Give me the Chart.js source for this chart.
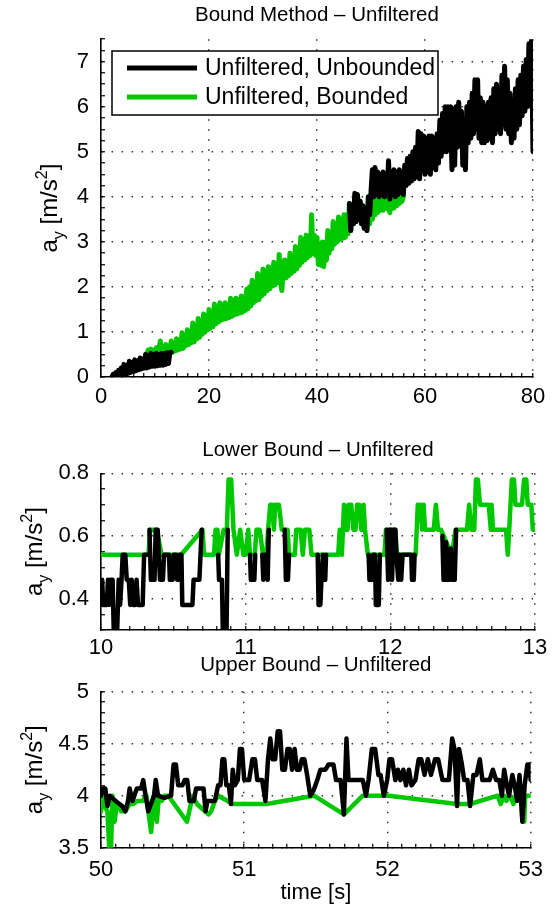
<!DOCTYPE html>
<html>
<head>
<meta charset="utf-8">
<script src="https://cdn.jsdelivr.net/npm/chart.js@4.4.1/dist/chart.umd.min.js"></script>
<style>
  html, body { margin: 0; padding: 0; background: #fff; }
  body { width: 556px; height: 910px; position: relative; overflow: hidden; }
  .panel { position: absolute; left: 0; width: 556px; }
  .panel canvas { display: block; }
</style>
</head>
<body>
<div class="panel" style="top:0;height:420px"><canvas id="topChart" width="556" height="420"></canvas></div>
<div class="panel" style="top:425px;height:240px"><canvas id="lowChart" width="556" height="240"></canvas></div>
<div class="panel" style="top:640px;height:270px"><canvas id="upChart" width="556" height="270"></canvas></div>
<script>
const FONT = '"Liberation Sans", Arial, sans-serif';

const panelTitles = ['Bound Method – Unfiltered', 'Lower Bound – Unfiltered', 'Upper Bound – Unfiltered'];
const seriesNames = ['Unfiltered, Unbounded', 'Unfiltered, Bounded'];
const seriesColors = ['#000000', '#00c800'];
const xTitle = 'time [s]';
// a_y [m/s^2] : 0 normal, 1 subscript, -1 superscript
const yTitleParts = [['a', 0], ['y', 1], [' [m/s', 0], ['2', -1], [']', 0]];

const topXTicks = [0, 20, 40, 60, 80];
const topYTicks = [0, 1, 2, 3, 4, 5, 6, 7];
const lowXTicks = [10, 11, 12, 13];
const lowYTicks = [0.4, 0.6, 0.8];
const upXTicks = [50, 51, 52, 53];
const upYTicks = [3.5, 4, 4.5, 5];

// top panel, unbounded (null = hidden under the bounded trace)
const topUnbTime = [
  2, 2.25, 2.5, 2.75, 3, 3.25, 3.5, 3.75, 4, 4.25, 4.5, 4.75, 5, 5.25, 5.5, 5.75,
  6, 6.25, 6.5, 6.75, 7, 7.25, 7.5, 7.75, 8, 8.25, 8.5, 8.75, 9, 9.25, 9.5, 9.75,
  10, 10.25, 10.5, 10.75, 11, 11.25, 11.5, 11.75, 12, 12.25, 12.5, 12.75, 13, 13.25,
  46, 46.25, 46.5, 46.75, 47, 47.25, 47.5, 47.75, 48, 48.25, 48.5, 48.75, 49, 49.25, 49.5, 49.75,
  50, 50.25, 50.5, 50.75, 51, 51.25, 51.5, 51.75, 52, 52.25, 52.5, 52.75, 53, 53.25, 53.5, 53.75,
  54, 54.25, 54.5, 54.75, 55, 55.25, 55.5, 55.75, 56, 56.25, 56.5, 56.75,
  57, 57.25, 57.5, 57.75, 58, 58.25, 58.5, 58.75, 59, 59.25, 59.5, 59.75,
  60, 60.25, 60.5, 60.75, 61, 61.25, 61.5, 61.75, 62, 62.25, 62.5, 62.75,
  63, 63.25, 63.5, 63.75, 64, 64.25, 64.5, 64.75, 65, 65.25, 65.5, 65.75,
  66, 66.25, 66.5, 66.75, 67, 67.25, 67.5, 67.75, 68, 68.25, 68.5, 68.75,
  69, 69.25, 69.5, 69.75, 70, 70.25, 70.5, 70.75, 71, 71.25, 71.5, 71.75,
  72, 72.25, 72.5, 72.75, 73, 73.25, 73.5, 73.75, 74, 74.25, 74.5, 74.75,
  75, 75.25, 75.5, 75.75, 76, 76.25, 76.5, 76.75, 77, 77.25, 77.5, 77.75,
  78, 78.25, 78.5, 78.75, 79, 79.25, 79.5, 79.75, 80];
const topUnb = [
  0.00, 0.06, 0.01, 0.10, 0.02, 0.15, 0.03, 0.20, 0.04, 0.28, 0.06, 0.26, 0.08, 0.35, 0.10, 0.32,
  0.12, 0.38, 0.14, 0.36, 0.16, 0.42, 0.18, 0.40, 0.20, 0.50, 0.20, 0.48, 0.22, 0.52, 0.24, 0.50,
  0.24, 0.52, 0.25, 0.50, 0.26, 0.52, 0.26, 0.52, 0.28, 0.54, 0.30, 0.54, 0.55, null,
  3.85, 3.25, 3.80, 3.40, 4.08, 3.45, 4.05, 3.50, 3.90, 3.40, 3.80, 3.30, 3.75, 3.25, 4.00, 3.60,
  4.10, 4.60, 4.00, 4.65, 4.05, 4.55, 4.00, 4.50, 4.05, 4.55, 4.00, 4.50, 4.10, 4.80, 3.95, 4.55,
  4.05, 4.60, 4.00, 4.55, 4.05, 4.60, 4.10, 4.55, 4.05, 4.70, 4.25, 4.85,
  4.30, 4.90, 4.35, 5.00, 4.40, 5.10, 4.45, 5.45, 4.40, 5.40, 4.60, 5.35,
  4.50, 5.30, 4.55, 5.35, 4.50, 5.35, 4.65, 5.30, 4.60, 5.40, 4.75, 5.70,
  4.90, 5.85, 5.00, 6.00, 5.00, 6.00, 5.10, 6.00, 4.60, 5.95, 4.70, 6.00,
  5.10, 6.10, 5.20, 5.90, 4.70, 5.70, 4.60, 6.00, 5.20, 6.10, 5.30, 6.30,
  5.40, 6.60, 5.50, 6.60, 5.30, 6.20, 5.20, 6.10, 5.20, 6.00, 5.25, 6.10,
  5.30, 6.20, 5.20, 6.40, 5.40, 6.50, 5.50, 6.40, 5.40, 6.70, 5.60, 6.90,
  5.50, 6.60, 5.40, 6.30, 5.20, 6.00, 5.30, 6.40, 5.50, 6.60, 5.60, 6.70,
  5.80, 6.90, 5.90, 7.05, 6.00, 7.40, 6.20, 7.50, 5.00];

// top panel, bounded
const topBndTime = [
  8.5, 8.75,
  9, 9.25, 9.5, 9.75, 10, 10.25, 10.5, 10.75, 11, 11.25, 11.5, 11.75, 12, 12.25, 12.5, 12.75,
  13, 13.25, 13.5, 13.75, 14, 14.25, 14.5, 14.75, 15, 15.25, 15.5, 15.75, 16, 16.25, 16.5, 16.75,
  17, 17.25, 17.5, 17.75, 18, 18.25, 18.5, 18.75, 19, 19.25, 19.5, 19.75, 20, 20.25, 20.5, 20.75,
  21, 21.25, 21.5, 21.75, 22, 22.25, 22.5, 22.75, 23, 23.25, 23.5, 23.75, 24, 24.25, 24.5, 24.75,
  25, 25.25, 25.5, 25.75, 26, 26.25, 26.5, 26.75, 27, 27.25, 27.5, 27.75, 28, 28.25, 28.5, 28.75,
  29, 29.25, 29.5, 29.75, 30, 30.25, 30.5, 30.75, 31, 31.25, 31.5, 31.75, 32, 32.25, 32.5, 32.75,
  33, 33.25, 33.5, 33.75, 34, 34.25, 34.5, 34.75, 35, 35.25, 35.5, 35.75, 36, 36.25, 36.5, 36.75,
  37, 37.25, 37.5, 37.75, 38, 38.25, 38.5, 38.75, 39, 39.25, 39.5, 39.75, 40, 40.25, 40.5, 40.75,
  41, 41.25, 41.5, 41.75, 42, 42.25, 42.5, 42.75, 43, 43.25, 43.5, 43.75, 44, 44.25, 44.5, 44.75,
  45, 45.25, 45.5, 45.75, 46, 46.25, 46.5, 46.75, 47, 47.25, 47.5, 47.75, 48, 48.25, 48.5, 48.75,
  49, 49.25, 49.5, 49.75, 50, 50.25, 50.5, 50.75, 51, 51.25, 51.5, 51.75, 52, 52.25, 52.5, 52.75,
  53, 53.25, 53.5, 53.75, 54, 54.25, 54.5, 54.75, 55, 55.25, 55.5, 55.75, 56];
const topBnd = [
  0.52, 0.60,
  0.50, 0.62, 0.52, 0.58, 0.50, 0.65, 0.54, 0.62, 0.80, 0.52, 0.66, 0.54, 0.72, 0.50, 0.68, 0.56,
  0.80, 0.55, 0.74, 0.58, 0.85, 0.60, 0.80, 0.62, 0.98, 0.64, 0.90, 0.70, 1.05, 0.72, 1.00, 0.76,
  1.20, 0.78, 1.12, 0.85, 1.30, 0.88, 1.25, 0.95, 1.40, 1.00, 1.35, 1.05, 1.50, 1.08, 1.45, 1.12,
  1.62, 1.18, 1.55, 1.22, 1.65, 1.26, 1.60, 1.28, 1.65, 1.30, 1.58, 1.32, 1.75, 1.35, 1.70, 1.38,
  1.75, 1.40, 1.72, 1.42, 1.80, 1.44, 1.78, 1.48, 1.95, 1.52, 2.00, 1.58, 2.15, 1.65, 2.10, 1.70,
  2.30, 1.72, 2.20, 1.80, 2.40, 1.85, 2.35, 1.92, 2.45, 1.96, 2.42, 2.02, 2.55, 2.05, 2.50, 2.10,
  2.72, 2.10, 1.92, 2.40, 2.60, 2.20, 2.58, 2.25, 2.75, 2.30, 2.70, 2.35, 2.90, 2.40, 2.85, 2.48,
  3.10, 2.55, 3.05, 2.60, 3.15, 2.65, 3.10, 2.70, 3.60, 2.75, 3.15, 2.70, 3.10, 2.50, 2.95, 2.48,
  3.00, 2.45, 3.00, 2.60, 3.25, 2.75, 3.20, 2.85, 3.45, 2.95, 3.40, 3.00, 3.55, 3.05, 3.50, 3.08,
  3.60, 3.10, 3.60, 3.18, 3.85, 3.25, 3.80, 3.40, 4.00, 3.45, 3.95, 3.50, 3.90, 3.40, 3.80, 3.30,
  3.75, 3.25, 3.70, 3.40, 3.90, 3.50, 3.95, 3.60, 4.00, 3.65, 4.00, 3.70, 4.00, 3.70, 4.00, 3.75,
  4.00, 3.72, 3.65, 3.90, 4.00, 3.75, 4.00, 3.80, 4.00, 3.85, 4.00, 3.90, 4.00];

// lower bound panel, unbounded (null = same as bounded)
const lowUnbTime = [10.000, 10.008, 10.015, 10.040, 10.048, 10.056, 10.066, 10.080, 10.088, 10.112, 10.122, 10.132, 10.142, 10.150, 10.168,
  10.178, 10.192, 10.202, 10.212, 10.222, 10.236, 10.246, 10.256, 10.288, 10.298, 10.320, 10.330,
  10.335, 10.345, 10.370, 10.378, 10.392, 10.400, 10.408, 10.428, 10.436, 10.470, 10.476, 10.495, 10.503, 10.520, 10.527, 10.537,
  10.545, 10.556, 10.562, 10.632, 10.640, 10.680, 10.688, 10.696, 10.700,
  10.810, 10.816, 10.836, 10.842, 10.868, 10.876, 10.900,
  11.030, 11.036, 11.060, 11.066, 11.090,
  11.115, 11.122, 11.132, 11.146, 11.152, 11.160, 11.200,
  11.270, 11.278, 11.292, 11.300, 11.400,
  11.498, 11.504, 11.516, 11.524, 11.534, 11.540, 11.550, 11.556, 11.700,
  11.850, 11.856, 11.876, 11.882, 11.894, 11.900, 11.920, 11.928, 11.950,
  11.975, 11.985, 11.995, 12.005, 12.012, 12.022, 12.035, 12.042, 12.055, 12.065, 12.075, 12.085, 12.145, 12.150, 12.162, 12.168, 12.250,
  12.360, 12.368, 12.378, 12.386, 12.395, 12.410, 12.418, 12.428, 12.445, 12.455];
const lowUnb = [0.46, 0.46, 0.38, 0.38, 0.46, 0.38, 0.46, 0.46, 0.30, 0.30, 0.46, 0.38, 0.46, 0.54, 0.54,
  0.46, 0.46, 0.38, 0.46, 0.38, 0.38, 0.46, 0.38, 0.38, 0.54, 0.54, null,
  0.62, 0.46, 0.46, 0.62, 0.62, 0.54, 0.46, 0.46, 0.54, 0.54, 0.46, 0.46, 0.54, 0.54, 0.46, 0.46,
  0.54, 0.54, 0.38, 0.38, 0.46, 0.46, 0.54, 0.62, null,
  0.54, 0.46, 0.46, 0.30, 0.30, 0.62, null,
  0.54, 0.46, 0.46, 0.54, null,
  0.54, 0.46, 0.54, 0.54, 0.46, 0.62, null,
  0.62, 0.46, 0.46, 0.54, null,
  0.54, 0.38, 0.38, 0.46, 0.54, 0.46, 0.46, 0.54, null,
  0.54, 0.46, 0.46, 0.54, 0.54, 0.38, 0.38, 0.54, null,
  0.62, 0.46, 0.62, 0.62, 0.46, 0.62, 0.62, 0.54, 0.46, 0.54, 0.46, 0.54, 0.54, 0.46, 0.46, 0.54, null,
  0.60, 0.46, 0.46, 0.58, 0.46, 0.46, 0.56, 0.46, 0.46, 0.62];

// lower bound panel, bounded
const lowBndTime = [10.000, 10.328, 10.340, 10.385, 10.419, 10.554, 10.701, 10.713, 10.781, 10.792, 10.805, 10.814, 10.848, 10.870,
  10.882, 10.900, 10.916, 10.939, 10.962, 10.984, 11.000, 11.018, 11.030, 11.063, 11.075, 11.097, 11.120, 11.143, 11.155, 11.170,
  11.185, 11.195, 11.205, 11.230, 11.250, 11.290, 11.300, 11.340, 11.350, 11.380, 11.395, 11.410, 11.440, 11.455, 11.640, 11.650,
  11.665, 11.680, 11.695, 11.705, 11.712, 11.730, 11.745, 11.760, 11.770, 11.785, 11.800, 11.815, 11.825, 11.845, 11.960, 11.970,
  12.035, 12.045, 12.175, 12.190, 12.210, 12.220, 12.230, 12.240, 12.300, 12.315, 12.330, 12.350, 12.425, 12.452, 12.530, 12.545,
  12.560, 12.580, 12.592, 12.605, 12.620, 12.680, 12.695, 12.700, 12.710, 12.800, 12.812, 12.822, 12.840, 12.855, 12.865, 12.910,
  12.925, 12.940, 12.950, 12.975, 12.985, 13.000];
const lowBnd = [0.54, 0.54, 0.62, 0.62, 0.54, 0.54, 0.62, 0.54, 0.54, 0.62, 0.62, 0.54, 0.62, 0.62,
  0.78, 0.78, 0.62, 0.54, 0.62, 0.54, 0.54, 0.62, 0.54, 0.54, 0.62, 0.62, 0.54, 0.54, 0.62, 0.70,
  0.70, 0.62, 0.70, 0.70, 0.62, 0.62, 0.54, 0.54, 0.62, 0.62, 0.54, 0.62, 0.62, 0.54, 0.54, 0.62,
  0.54, 0.70, 0.62, 0.62, 0.70, 0.70, 0.62, 0.62, 0.70, 0.70, 0.62, 0.70, 0.62, 0.54, 0.54, 0.62,
  0.62, 0.54, 0.54, 0.70, 0.70, 0.62, 0.70, 0.62, 0.62, 0.70, 0.62, 0.62, 0.54, 0.62, 0.62, 0.70,
  0.62, 0.62, 0.78, 0.78, 0.70, 0.70, 0.62, 0.70, 0.62, 0.62, 0.54, 0.62, 0.78, 0.78, 0.70, 0.70,
  0.78, 0.78, 0.70, 0.70, 0.62, 0.62];

// upper bound panel, unbounded
const upUnbTime = [50.000, 50.011, 50.030, 50.045, 50.061, 50.102, 50.148, 50.170, 50.189, 50.200, 50.220, 50.250, 50.280, 50.295,
  50.311, 50.330, 50.370, 50.382, 50.398, 50.443, 50.489, 50.507, 50.523, 50.539, 50.568, 50.584, 50.602, 50.618, 50.648, 50.664,
  50.716, 50.730, 50.743, 50.795, 50.818, 50.834, 50.848, 50.861, 50.875, 50.893, 50.907, 50.920, 50.934, 50.955, 50.970, 50.984,
  51.000, 51.034, 51.057, 51.075, 51.091, 51.125, 51.148, 51.166, 51.182, 51.198, 51.216, 51.234, 51.250, 51.266, 51.284, 51.302,
  51.318, 51.334, 51.352, 51.368, 51.386, 51.402, 51.420, 51.439, 51.461, 51.484, 51.510, 51.532, 51.567, 51.589, 51.623, 51.641,
  51.673, 51.696, 51.714, 51.728, 51.828, 51.850, 51.868, 51.891, 51.914, 51.937, 51.952, 51.975, 51.998, 52.014, 52.032, 52.055,
  52.073, 52.091, 52.111, 52.130, 52.150, 52.168, 52.195, 52.218, 52.236, 52.259, 52.282, 52.304, 52.332, 52.354, 52.384, 52.429,
  52.452, 52.468, 52.486, 52.500, 52.520, 52.536, 52.559, 52.577, 52.600, 52.622, 52.645, 52.663, 52.713, 52.736, 52.759, 52.781,
  52.799, 52.815, 52.834, 52.849, 52.872, 52.888, 52.906, 52.922, 52.942, 52.958, 52.977, 52.990, 53.000];
const upUnb = [4.00, 4.07, 4.07, 3.90, 4.00, 3.95, 3.90, 3.85, 3.95, 4.07, 3.95, 4.07, 4.07, 4.15,
  4.00, 3.85, 4.00, 4.15, 4.00, 3.98, 4.00, 4.30, 4.30, 4.10, 4.10, 4.15, 4.15, 3.95, 3.95, 4.07,
  4.07, 3.85, 3.95, 3.95, 4.10, 4.10, 4.35, 4.35, 4.10, 4.10, 3.92, 4.25, 4.10, 4.15, 4.45, 4.45,
  4.15, 4.15, 4.35, 4.35, 4.15, 4.15, 3.95, 4.35, 4.55, 4.35, 4.35, 4.62, 4.62, 4.25, 4.25, 4.45,
  4.45, 4.25, 4.45, 4.25, 4.25, 4.35, 4.35, 4.20, 4.00, 4.05, 4.15, 4.25, 4.25, 4.30, 4.30, 4.15,
  4.15, 3.82, 4.55, 4.15, 4.15, 4.00, 4.15, 4.45, 4.45, 4.20, 4.20, 4.00, 4.15, 4.35, 4.35, 4.15,
  4.25, 4.15, 4.25, 4.10, 4.25, 4.10, 4.15, 4.35, 4.35, 4.20, 4.35, 4.20, 4.35, 4.35, 4.15, 4.15,
  4.55, 4.45, 3.90, 4.45, 4.30, 4.15, 4.15, 3.90, 4.20, 4.20, 4.35, 4.15, 4.15, 4.25, 4.15, 4.15,
  4.00, 4.25, 4.10, 4.00, 4.20, 4.10, 3.95, 4.20, 3.75, 4.10, 4.30, 4.30, 4.15];

// upper bound panel, bounded
const upBndTime = [50.000, 50.011, 50.025, 50.045, 50.057, 50.070, 50.080, 50.095, 50.110, 50.125, 50.140, 50.170, 50.200, 50.225,
  50.255, 50.290, 50.318, 50.335, 50.350, 50.370, 50.390, 50.405, 50.425, 50.445, 50.470, 50.600, 50.640, 50.670, 50.750, 50.770,
  50.795, 50.820, 50.920, 51.155, 51.487, 51.696, 51.828, 52.010, 52.486, 52.577, 52.770, 52.790, 52.815, 52.830, 52.855, 52.880,
  52.895, 52.935, 52.942, 52.955, 52.962, 53.000];
const upBnd = [3.85, 4.00, 3.90, 3.85, 3.50, 3.50, 4.00, 3.75, 3.92, 3.92, 3.85, 3.85, 3.92, 3.92,
  3.95, 3.95, 4.00, 3.80, 3.65, 4.00, 3.75, 4.00, 3.95, 4.00, 4.00, 3.75, 4.00, 3.92, 3.82, 3.85,
  3.95, 4.00, 3.92, 3.92, 4.00, 3.82, 4.00, 4.00, 3.92, 3.92, 4.00, 3.92, 4.00, 3.95, 4.00, 3.92,
  4.00, 4.00, 3.75, 3.75, 4.00, 4.00];

function series(t, v) {
  return t.map((x, i) => ({ x: x, y: v[i] }));
}

function stepList(min, max, step) {
  const out = [];
  for (let k = 0; min + k * step <= max + 1e-9; k++) out.push(+(min + k * step).toFixed(6));
  return out;
}

function findMajor(v, majors) {
  return majors.find(m => Math.abs(m - v) < 1e-6);
}

function axisCfg(o) {
  const cfg = {
    type: 'linear',
    min: o.min,
    max: o.max,
    afterBuildTicks: s => { s.ticks = stepList(o.min, o.max, o.minor).map(v => ({ value: v })); },
    afterFit: s => { if (o.horizontal) s.height = o.size; else s.width = o.size; },
    ticks: {
      autoSkip: false,
      maxRotation: 0,
      padding: o.pad,
      color: '#000',
      font: { family: FONT, size: 22 },
      callback: v => { const m = findMajor(v, o.majors); return m === undefined ? '' : String(m); }
    },
    grid: {
      color: c => (c.tick && findMajor(c.tick.value, o.majors) !== undefined) ? '#333' : 'rgba(0,0,0,0)',
      lineWidth: 1.5,
      drawTicks: true,
      tickLength: -4,
      tickColor: '#000',
      tickWidth: 1.2
    },
    border: { display: true, color: '#000', width: 1.6, dash: [1.5, 8.5] }
  };
  if (o.title) {
    cfg.title = { display: true, text: o.title, color: '#000', font: { family: FONT, size: 22 }, padding: { top: 0, bottom: 4 } };
  }
  return cfg;
}

function yLabel(xBase) {
  return {
    id: 'yLabel',
    afterDraw(chart) {
      const ctx = chart.ctx, a = chart.chartArea;
      const font = k => (k === 0 ? '24px ' : '16px ') + FONT;
      const shift = k => (k === 1 ? 7 : k === -1 ? -10 : 0);
      ctx.save();
      let total = 0;
      yTitleParts.forEach(([t, k]) => { ctx.font = font(k); total += ctx.measureText(t).width; });
      ctx.translate(xBase, (a.top + a.bottom) / 2);
      ctx.rotate(-Math.PI / 2);
      ctx.fillStyle = '#000';
      ctx.textBaseline = 'alphabetic';
      let x = -total / 2;
      yTitleParts.forEach(([t, k]) => {
        ctx.font = font(k);
        ctx.fillText(t, x, shift(k));
        x += ctx.measureText(t).width;
      });
      ctx.restore();
    }
  };
}

const boxLegend = {
  id: 'boxLegend',
  afterDraw(chart) {
    const ctx = chart.ctx;
    ctx.save();
    ctx.fillStyle = '#fff';
    ctx.fillRect(112, 51, 326, 64);
    ctx.strokeStyle = '#000';
    ctx.lineWidth = 1.5;
    ctx.strokeRect(112, 51, 326, 64);
    chart.data.datasets.forEach((ds, i) => {
      const y = 68 + i * 29;
      ctx.strokeStyle = ds.borderColor;
      ctx.lineWidth = 5;
      ctx.beginPath();
      ctx.moveTo(127, y);
      ctx.lineTo(197, y);
      ctx.stroke();
      ctx.fillStyle = '#000';
      ctx.font = '23px ' + FONT;
      ctx.textBaseline = 'middle';
      ctx.fillText(ds.label, 205, y + 1);
    });
    ctx.restore();
  }
};

function lineStyle(width) {
  return {
    borderWidth: width,
    pointRadius: 0,
    tension: 0,
    fill: false,
    spanGaps: false,
    clip: 0,
    borderJoinStyle: 'round',
    borderCapStyle: 'round'
  };
}

function makeChart(id, p) {
  return new Chart(document.getElementById(id), {
    type: 'line',
    data: {
      datasets: [
        Object.assign({ label: seriesNames[0], data: series(p.t0, p.v0), borderColor: seriesColors[0] }, lineStyle(p.width)),
        Object.assign({ label: seriesNames[1], data: series(p.t1, p.v1), borderColor: seriesColors[1] }, lineStyle(p.width))
      ]
    },
    options: {
      responsive: false,
      animation: false,
      events: [],
      layout: { padding: { left: 0, right: 13, top: 0, bottom: 0 } },
      plugins: {
        legend: { display: false },
        tooltip: { enabled: false },
        title: {
          display: true,
          fullSize: false,
          text: p.title,
          color: '#000',
          font: { family: FONT, size: 20.5, weight: 'normal', lineHeight: 1.2 },
          padding: p.titlePad
        }
      },
      scales: { x: p.x, y: p.y }
    },
    plugins: p.plugins
  });
}

makeChart('topChart', {
  title: panelTitles[0],
  titlePad: { top: 3, bottom: 11.6 },
  width: 5,
  t0: topUnbTime, v0: topUnb, t1: topBndTime, v1: topBnd,
  x: axisCfg({ horizontal: true, min: 0, max: 80, minor: 2, majors: topXTicks, size: 43, pad: 10.8 }),
  y: axisCfg({ horizontal: false, min: 0, max: 7.5, minor: 0.25, majors: topYTicks, size: 101, pad: 16 }),
  plugins: [yLabel(57), boxLegend]
});

makeChart('lowChart', {
  title: panelTitles[1],
  titlePad: { top: 13, bottom: 10.7 },
  width: 4.5,
  t0: lowUnbTime, v0: lowUnb, t1: lowBndTime, v1: lowBnd,
  x: axisCfg({ horizontal: true, min: 10, max: 13, minor: 0.1, majors: lowXTicks, size: 35, pad: 8.8 }),
  y: axisCfg({ horizontal: false, min: 0.3, max: 0.8, minor: 0.05, majors: lowYTicks, size: 101, pad: 16 }),
  plugins: [yLabel(42)]
});

makeChart('upChart', {
  title: panelTitles[2],
  titlePad: { top: 13, bottom: 14.1 },
  width: 4.5,
  t0: upUnbTime, v0: upUnb, t1: upBndTime, v1: upBnd,
  x: axisCfg({ horizontal: true, min: 50, max: 53, minor: 0.1, majors: upXTicks, size: 62.3, pad: 13.1, title: xTitle }),
  y: axisCfg({ horizontal: false, min: 3.5, max: 5, minor: 0.1, majors: upYTicks, size: 101, pad: 16 }),
  plugins: [yLabel(42)]
});
</script>
</body>
</html>
